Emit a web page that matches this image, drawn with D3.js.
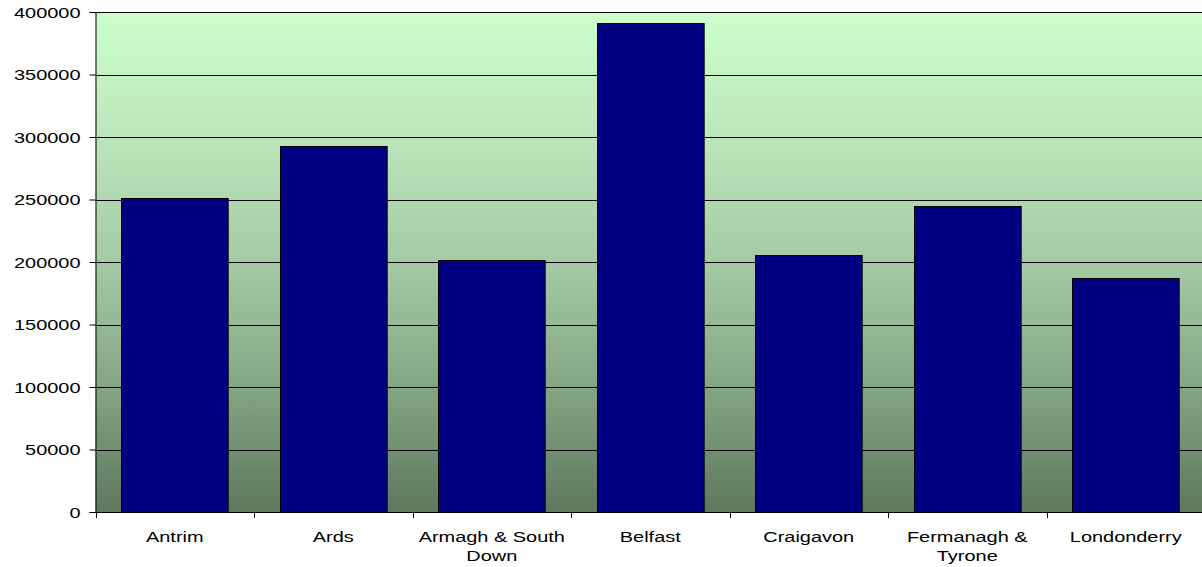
<!DOCTYPE html>
<html>
<head>
<meta charset="utf-8">
<script src="https://cdn.jsdelivr.net/npm/d3@7"></script>
<style>
  html, body { margin: 0; padding: 0; background: #ffffff; }
  svg { display: block; }
  text { font-family: "Liberation Sans", Arial, sans-serif; font-size: 15px; fill: #000; }
</style>
</head>
<body>
<div id="chart"></div>
<script>
// ---- data ----
const categories = ["Antrim", "Ards", "Armagh & South Down", "Belfast", "Craigavon", "Fermanagh & Tyrone", "Londonderry"];
const values = [251000, 293000, 202000, 391500, 205500, 245000, 187000];
const yTicks = [0, 50000, 100000, 150000, 200000, 250000, 300000, 350000, 400000];
const yMax = 400000;
const labelLines = [["Antrim"], ["Ards"], ["Armagh & South", "Down"], ["Belfast"], ["Craigavon"], ["Fermanagh &", "Tyrone"], ["Londonderry"]];

// ---- layout ----
const W = 1202, H = 567;
const plot = { left: 95.5, top: 12, right: 1205, bottom: 512 };
const stretch = 1.33; // horizontal text stretch of the original

const svg = d3.select("#chart").append("svg").attr("width", W).attr("height", H);

const x = d3.scaleBand().domain(categories).range([plot.left, plot.right])
  .paddingInner(0.327).paddingOuter(0.1635);
const y = d3.scaleLinear().domain([0, yMax]).range([plot.bottom, plot.top]);

// gradient background
const defs = svg.append("defs");
const grad = defs.append("linearGradient").attr("id", "bg").attr("x1", 0).attr("y1", 0).attr("x2", 0).attr("y2", 1);
[[0, "#ccffcc"], [0.25, "#bce6bc"], [0.5, "#a5caa5"], [0.75, "#84a584"], [1, "#5e785e"]]
  .forEach(([o, c]) => grad.append("stop").attr("offset", o).attr("stop-color", c));

svg.append("rect")
  .attr("x", plot.left).attr("y", plot.top)
  .attr("width", plot.right - plot.left).attr("height", plot.bottom - plot.top)
  .attr("fill", "url(#bg)");

// gridlines
svg.append("g").selectAll("line").data(yTicks.filter(d => d > 0)).join("line")
  .attr("x1", plot.left).attr("x2", plot.right)
  .attr("y1", d => Math.round(y(d)) + 0.5).attr("y2", d => Math.round(y(d)) + 0.5)
  .attr("stroke", "#000").attr("stroke-width", 1);

// bars
svg.append("g").selectAll("rect").data(categories).join("rect")
  .attr("x", d => Math.round(x(d)) + 0.5)
  .attr("y", (d, i) => Math.round(y(values[i])) + 0.5)
  .attr("width", x.bandwidth())
  .attr("height", (d, i) => y(0) - Math.round(y(values[i])))
  .attr("fill", "#000080").attr("stroke", "#000").attr("stroke-width", 1);

// y axis
const yAxis = svg.append("g").attr("transform", `translate(${plot.left},0)`)
  .call(d3.axisLeft(y).tickValues(yTicks).tickSize(6).tickPadding(0).tickFormat(d3.format("d")));
yAxis.select(".domain").attr("stroke", "#000");
yAxis.selectAll(".tick line").attr("stroke", "#000");
yAxis.selectAll(".tick text")
  .attr("x", -15 / stretch)
  .attr("dy", "0.36em")
  .attr("transform", `scale(${stretch},1)`)
  .style("font-size", "15px").style("font-family", "'Liberation Sans', Arial, sans-serif");

// x axis line
svg.append("line").attr("x1", plot.left).attr("x2", plot.right)
  .attr("y1", plot.bottom + 0.5).attr("y2", plot.bottom + 0.5).attr("stroke", "#000");

// x ticks at band boundaries
const step = x.step();
const bounds = d3.range(categories.length + 1).map(i => x(categories[0]) - step * x.paddingInner() / 2 + i * step);
svg.append("g").selectAll("line").data(bounds).join("line")
  .attr("x1", d => Math.round(d) + 0.5).attr("x2", d => Math.round(d) + 0.5)
  .attr("y1", plot.bottom).attr("y2", plot.bottom + 6)
  .attr("stroke", "#000");

// x labels
const lbl = svg.append("g").selectAll("g").data(categories).join("g")
  .attr("transform", d => `translate(${x(d) + x.bandwidth() / 2},${plot.bottom + 30}) scale(${stretch},1)`);
lbl.append("text").attr("text-anchor", "middle")
  .each(function(d, i) {
    d3.select(this).selectAll("tspan").data(labelLines[i]).join("tspan")
      .attr("x", 0).attr("y", (t, j) => j * 19).text(t => t);
  });
</script>
</body>
</html>
